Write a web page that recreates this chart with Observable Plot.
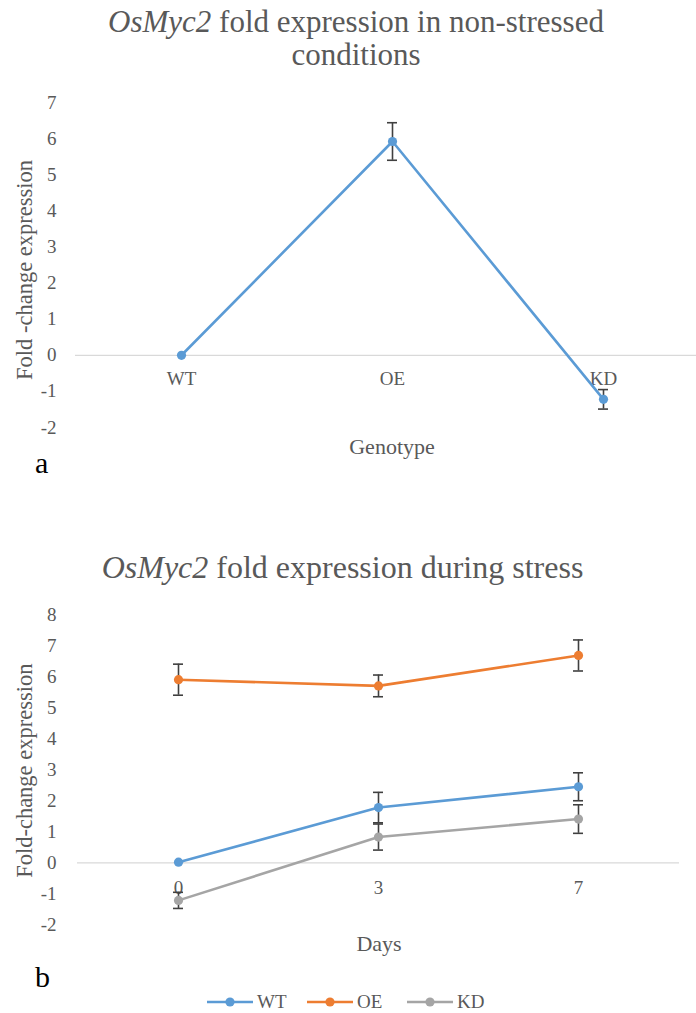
<!DOCTYPE html>
<html><head><meta charset="utf-8">
<script src="https://cdn.jsdelivr.net/npm/d3@7"></script>
<script src="https://cdn.jsdelivr.net/npm/@observablehq/plot@0.6"></script>
<style>
body{margin:0;background:#fff;}
#page{position:relative;width:696px;height:1013px;overflow:hidden;font-family:"Liberation Serif","Times New Roman",serif;color:#595959;background:#fff;}
#page svg, #page svg text{font-family:"Liberation Serif","Times New Roman",serif !important;}
.title{position:absolute;white-space:nowrap;text-align:center;transform:translateX(-50%);}
.panel{position:absolute;color:#000;font-size:30px;line-height:30px;}
.plot{position:absolute;left:0;}
.lg{position:absolute;top:992px;height:20px;display:flex;align-items:center;font-size:19px;color:#595959;}
.lg svg{margin-right:4px;}
</style>
</head><body>
<div id="page">
  <div class="title" style="left:356px;top:5px;font-size:31px;line-height:33px;"><i>OsMyc2</i> fold expression in non-stressed<br>conditions</div>
  <div class="title" style="left:342.5px;top:549px;font-size:32px;line-height:36px;"><i>OsMyc2</i> fold expression during stress</div>
  <div class="panel" style="left:35px;top:448px;">a</div>
  <div class="panel" style="left:35px;top:962px;">b</div>
  <div id="top" class="plot" style="top:80px;"></div>
  <div id="bottom" class="plot" style="top:590px;"></div>
  <div id="legend"></div>
</div>
<script>
// ---- Data ----
const genotypes = ["WT", "OE", "KD"];
const nonStressMean = [0.0, 5.92, -1.22];
const nonStressErr = [0.0, 0.52, 0.27];
const yTicksTop = [-2, -1, 0, 1, 2, 3, 4, 5, 6, 7];

const days = ["0", "3", "7"];
const seriesNames = ["WT", "OE", "KD"];
const wtMean = [0.02, 1.78, 2.45];
const wtErr = [0.0, 0.49, 0.45];
const oeMean = [5.90, 5.70, 6.68];
const oeErr = [0.50, 0.35, 0.50];
const kdMean = [-1.21, 0.83, 1.41];
const kdErr = [0.26, 0.42, 0.46];
const yTicksBottom = [-2, -1, 0, 1, 2, 3, 4, 5, 6, 7, 8];
const seriesColors = ["#5B9BD5", "#ED7D31", "#A5A5A5"];

const FONT = '"Liberation Serif", "Times New Roman", serif';
const TXT = "#595959";
const ERR = "#404040";

// ---- Top chart ----
const topData = genotypes.map((g, i) => ({g, m: nonStressMean[i], e: nonStressErr[i]}));
const topErr = topData.filter(d => d.e > 0);

const topPlot = Plot.plot({
  width: 696, height: 400,
  marginTop: 22, marginBottom: 53, marginLeft: 75, marginRight: 0,
  style: {fontFamily: FONT, fontSize: "19px", color: TXT, background: "transparent", overflow: "visible"},
  x: {type: "point", domain: genotypes, range: [75, 708], padding: 0.5, axis: null},
  y: {domain: [-2, 7], axis: null},
  marks: [
    Plot.axisY(yTicksTop, {tickSize: 0, tickPadding: 19, label: null, tickFormat: d => `${d}`, fontSize: 19, fontFamily: FONT, fill: TXT}),
    Plot.ruleY([0], {stroke: "#D9D9D9", strokeWidth: 1.3}),
    Plot.text(genotypes, {x: d => d, y: () => 0, dy: 24, fill: TXT, fontSize: 19, fontFamily: FONT, lineAnchor: "middle"}),
    Plot.text(["Fold -change expression"], {frameAnchor: "left", textAnchor: "middle", lineAnchor: "middle", rotate: -90, dx: -51, dy: 5, fontSize: 22.5, fontFamily: FONT, fill: TXT}),
    Plot.text(["Genotype"], {frameAnchor: "bottom", textAnchor: "middle", lineAnchor: "middle", dx: 6, dy: 19, fontSize: 22, fontFamily: FONT, fill: TXT}),
    Plot.ruleX(topErr, {x: "g", y1: d => d.m - d.e, y2: d => d.m + d.e, stroke: ERR, strokeWidth: 1.6}),
    Plot.ruleY(topErr, {x1: "g", x2: "g", y: d => d.m + d.e, insetLeft: -5, insetRight: -5, stroke: ERR, strokeWidth: 1.6}),
    Plot.ruleY(topErr, {x1: "g", x2: "g", y: d => d.m - d.e, insetLeft: -5, insetRight: -5, stroke: ERR, strokeWidth: 1.6}),
    Plot.line(topData, {x: "g", y: "m", stroke: seriesColors[0], strokeWidth: 2.6}),
    Plot.dot(topData, {x: "g", y: "m", r: 4.6, fill: seriesColors[0], stroke: "none"})
  ]
});
document.getElementById("top").appendChild(topPlot);

// ---- Bottom chart ----
const means = [wtMean, oeMean, kdMean];
const errs = [wtErr, oeErr, kdErr];
const bottomData = seriesNames.flatMap((s, si) => days.map((d, di) => ({s, d, m: means[si][di], e: errs[si][di]})));
const bottomErr = bottomData.filter(d => d.e > 0);

const bottomPlot = Plot.plot({
  width: 696, height: 423,
  marginTop: 24, marginBottom: 88.6, marginLeft: 77, marginRight: 17,
  style: {fontFamily: FONT, fontSize: "19px", color: TXT, background: "transparent", overflow: "visible"},
  x: {type: "point", domain: days, padding: 0.5, axis: null},
  y: {domain: [-2, 8], axis: null},
  color: {domain: seriesNames, range: seriesColors},
  marks: [
    Plot.axisY(yTicksBottom, {tickSize: 0, tickPadding: 21, label: null, tickFormat: d => `${d}`, fontSize: 19, fontFamily: FONT, fill: TXT}),
    Plot.ruleY([0], {stroke: "#D9D9D9", strokeWidth: 1.3}),
    Plot.text(days, {x: d => d, y: () => 0, dy: 25, fill: TXT, fontSize: 19, fontFamily: FONT, lineAnchor: "middle"}),
    Plot.text(["Fold-change expression"], {frameAnchor: "left", textAnchor: "middle", lineAnchor: "middle", rotate: -90, dx: -53, dy: 1, fontSize: 22.5, fontFamily: FONT, fill: TXT}),
    Plot.text(["Days"], {frameAnchor: "bottom", textAnchor: "middle", lineAnchor: "middle", dx: 0.5, dy: 19, fontSize: 22, fontFamily: FONT, fill: TXT}),
    Plot.ruleX(bottomErr, {x: "d", y1: d => d.m - d.e, y2: d => d.m + d.e, stroke: ERR, strokeWidth: 1.6}),
    Plot.ruleY(bottomErr, {x1: "d", x2: "d", y: d => d.m + d.e, insetLeft: -5, insetRight: -5, stroke: ERR, strokeWidth: 1.6}),
    Plot.ruleY(bottomErr, {x1: "d", x2: "d", y: d => d.m - d.e, insetLeft: -5, insetRight: -5, stroke: ERR, strokeWidth: 1.6}),
    Plot.line(bottomData, {x: "d", y: "m", z: "s", stroke: "s", strokeWidth: 2.6}),
    Plot.dot(bottomData, {x: "d", y: "m", fill: "s", r: 4.6, stroke: "none"})
  ]
});
document.getElementById("bottom").appendChild(bottomPlot);

// ---- Legend ----
const legend = document.getElementById("legend");
seriesNames.forEach((name, i) => {
  const item = document.createElement("div");
  item.className = "lg";
  item.style.left = (207 + 100 * i) + "px";
  const c = seriesColors[i];
  item.innerHTML = `<svg width="46" height="14" viewBox="0 0 46 14"><line x1="0" y1="7" x2="46" y2="7" stroke="${c}" stroke-width="2.6"/><circle cx="23" cy="7" r="4.6" fill="${c}"/></svg><span>${name}</span>`;
  legend.appendChild(item);
});
</script>
</body></html>
